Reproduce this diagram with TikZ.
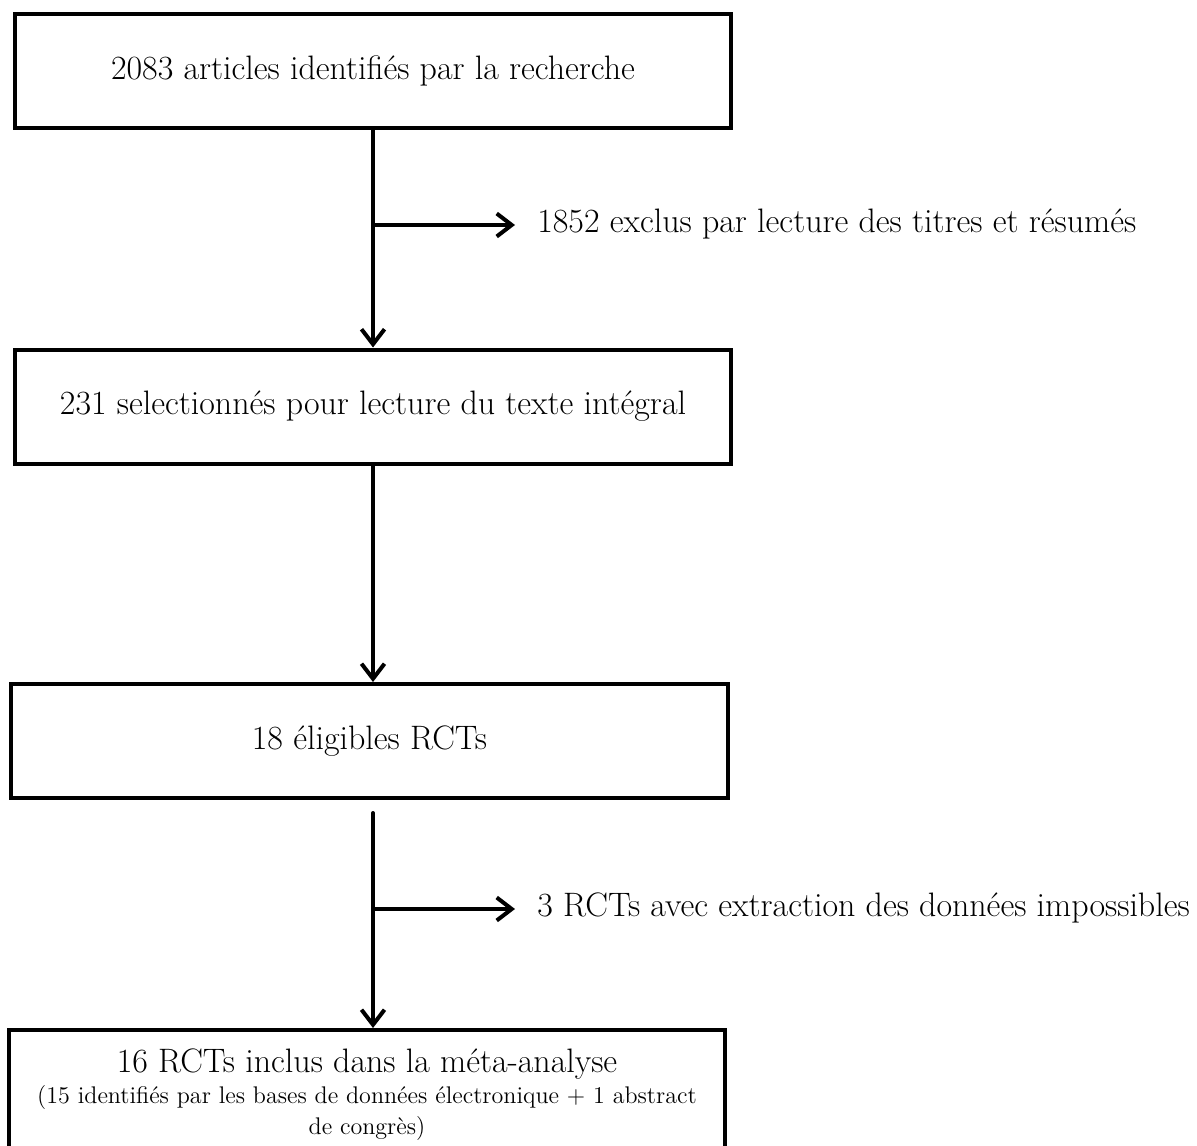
\documentclass[tikz,border=0pt]{standalone}
\usetikzlibrary{arrows.meta}

\newcommand{\smallnote}{\fontsize{13.7}{15.3}\selectfont}

\begin{document}
\begin{tikzpicture}[
        boxed/.style = {draw, line width=0.08cm, minimum width=14.32cm, minimum height=2.28cm, inner sep=0, font=\fontsize{19.3}{23}\selectfont},
        sidetext/.style = {anchor=base west, inner sep=0, font=\fontsize{19.3}{23}\selectfont},
        flow/.style = {line width=0.08cm, line cap=round, -{Straight Barb[length=0.3cm, width=0.46cm]}}
    ]
                \useasboundingbox (0,0) rectangle (23.94,-22.9);
                \clip (0,0) rectangle (23.94,-22.9);
                \fill[white] (0,0) rectangle (23.94,-22.9);
                \node[boxed] (ident) at (7.46,-1.42) {2083 articles identifiés par la recherche};
                \node[boxed] (select) at (7.46,-8.13) {231 selectionnés pour lecture du texte intégral};
                \node[boxed] (elig) at (7.39,-14.82) {18 éligibles RCTs};
                \node[boxed, anchor=north, minimum height=0, inner ysep=0.37cm, align=center, font=\fontsize{19.3}{17.6}\selectfont] (incl) at (7.34,-20.56)
                    {16 RCTs inclus dans la méta-analyse\\\smallnote (15 identifiés par les bases de données électronique + 1 abstract\\\smallnote de congrès)};
                \coordinate (cut1) at (7.46,-4.5);
                \coordinate (cut2) at (7.46,-18.18);
                \node[sidetext] (excl) at (10.74,-4.66) {1852 exclus par lecture des titres et résumés};
                \node[sidetext] (noext) at (10.74,-18.32) {3 RCTs avec extraction des données impossibles};
                \draw[flow] (ident) -- (select);
                \draw[flow] (select.south) -- (select.south |- elig.north);
                \draw[flow, shorten <=0.26cm] (select.south |- elig.south) -- (select.south |- incl.north);
                \draw[flow, shorten >=0.44cm] (cut1) -- (cut1 -| excl.west);
                \draw[flow, shorten >=0.44cm] (cut2) -- (cut2 -| noext.west);
            \end{tikzpicture}
\end{document}
